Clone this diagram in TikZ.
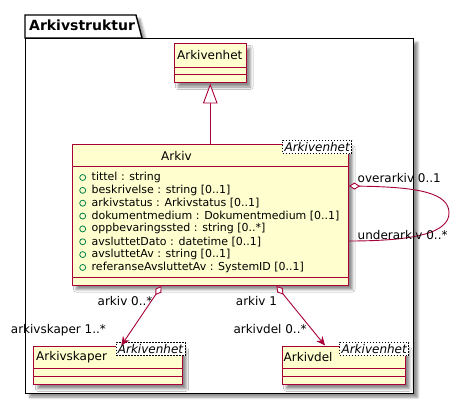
\documentclass[tikz,border=0pt]{standalone}
\usepackage{fontspec}
\setmainfont{DejaVu Sans}
\usetikzlibrary{arrows.meta,shadows.blur,calc}
\definecolor{umlborder}{HTML}{A80036}
\definecolor{umlfill}{HTML}{FEFECE}
\definecolor{attrgreen}{HTML}{038048}
\tikzset{
  shd/.style={blur shadow={shadow xshift=4pt,shadow yshift=-4pt,shadow blur radius=2.5pt,shadow opacity=45}},
  classbox/.style={draw=umlborder,fill=umlfill,line width=1pt,anchor=north west,inner sep=0pt,shd},
  sepline/.style={draw=umlborder,line width=1pt},
  tmpl/.style={draw=black,fill=white,line width=0.6pt,dash pattern=on 1.5pt off 1.5pt,inner sep=0.5pt,
    minimum width=69pt,minimum height=13.5pt,font=\fontsize{12}{14}\selectfont\itshape},
  pkgline/.style={draw=black,line width=1.4pt,fill=white},
  cname/.style={inner sep=0pt,font=\fontsize{12}{14}\selectfont},
  attr/.style={inner sep=0pt,anchor=west,font=\fontsize{11}{13}\selectfont},
  dot/.style={circle,draw=attrgreen,line width=0.8pt,minimum size=6pt,inner sep=0pt},
  lbl/.style={inner sep=0pt,anchor=base west,font=\fontsize{12}{14}\selectfont},
  conn/.style={draw=umlborder,line width=0.9pt}
}
\begin{document}
\begin{tikzpicture}[x=1pt,y=-1pt]
\useasboundingbox (0,0) rectangle (461,404);
% package
\draw[pkgline,shd] (25,38) -- (25,15) -- (136,15) -- (142,38) -- cycle;
\node[pkgline,shd,anchor=north west,inner sep=0pt,minimum width=388pt,minimum height=354.5pt] (pkg) at (25,38) {};
\node[inner sep=0pt,anchor=west,font=\fontsize{14}{16}\selectfont\bfseries] (pkgtitle) at (29,25.5) {Arkivstruktur};

% Arkivenhet
\node[classbox,minimum width=72.5pt,minimum height=39pt] (enhet) at (173.5,43.5) {};
\draw[sepline] (173.5,67.3) -- (246,67.3);
\draw[sepline] (173.5,74.5) -- (246,74.5);
\node[cname] (enhetname) at (209.75,55.5) {Arkivenhet};

% Arkiv
\node[classbox,minimum width=276.5pt,minimum height=141.5pt] (arkiv) at (71.5,143.5) {};
\draw[sepline] (71.5,166.7) -- (348,166.7);
\draw[sepline] (71.5,277.7) -- (348,277.7);
\node[cname] (arkivname) at (176.5,155.5) {Arkiv};
\node[tmpl] (arkivtmpl) at (317.2,146.8) {Arkivenhet};
\foreach \i/\t in {0/{tittel : string},
                   1/{beskrivelse : string [0..1]},
                   2/{arkivstatus : Arkivstatus [0..1]},
                   3/{dokumentmedium : Dokumentmedium [0..1]},
                   4/{oppbevaringssted : string [0..*]},
                   5/{avsluttetDato : datetime [0..1]},
                   6/{avsluttetAv : string [0..1]},
                   7/{referanseAvsluttetAv : SystemID [0..1]}} {
  \node[dot] (dot\i) at (82.7,{177.5+12.85*\i}) {};
  \node[attr] (attr\i) at (91.5,{177.3+12.85*\i}) {\t};
}

% Arkivskaper
\node[classbox,minimum width=148.4pt,minimum height=38.8pt] (skaper) at (33.3,345.5) {};
\draw[sepline] (33.3,368.3) -- (181.7,368.3);
\draw[sepline] (33.3,376.3) -- (181.7,376.3);
\node[cname,anchor=west] (skapername) at (36,357) {Arkivskaper};
\node[tmpl] (skapertmpl) at (150.5,348.8) {Arkivenhet};

% Arkivdel
\node[classbox,minimum width=123.3pt,minimum height=38.8pt] (del) at (281.7,345.5) {};
\draw[sepline] (281.7,368.3) -- (405,368.3);
\draw[sepline] (281.7,376.3) -- (405,376.3);
\node[cname,anchor=west] (delname) at (283.5,357) {Arkivdel};
\node[tmpl] (deltmpl) at (374.2,348.8) {Arkivenhet};

% connectors
\draw[conn,-{Triangle[length=20pt,width=14.6pt,fill=white]}] (enhet.south |- arkiv.north) -- (enhet.south);

\coordinate (loopA) at ($(arkiv.north east)+(0,42.5)$);
\coordinate (loopB) at ($(arkiv.north east)+(100,69.5)$);
\coordinate (loopC) at ($(arkiv.north east)+(0,97.5)$);
\draw[conn,{Diamond[length=11pt,width=7pt,fill=white]}-] (loopA) .. controls ($(loopA)+(70,1)$) and ($(loopB)+(0,-20)$) .. (loopB)
   .. controls ($(loopB)+(0,20)$) and ($(loopC)+(65,0)$) .. (loopC);

\draw[conn,{Diamond[length=11pt,width=7pt,fill=white]}-{Stealth[length=9pt,width=8pt,inset=3pt]}]
  ($(arkiv.south west)+(90,0)$) -- ($(skaper.north west)+(88,0)$);
\draw[conn,{Diamond[length=11pt,width=7pt,fill=white]}-{Stealth[length=9pt,width=8pt,inset=3pt]}]
  ($(arkiv.south west)+(205,0)$) -- ($(del.north west)+(43.3,0)$);

% labels
\node[lbl] (l1) at (357.5,182) {overarkiv 0..1};
\node[lbl] (l2) at (357.5,239.5) {underarkiv 0..*};
\node[lbl] (l3) at (97.5,305) {arkiv 0..*};
\node[lbl] (l4) at (10.7,333.3) {arkivskaper 1..*};
\node[lbl] (l5) at (235.7,305) {arkiv 1};
\node[lbl] (l6) at (233.3,333.3) {arkivdel 0..*};
\end{tikzpicture}
\end{document}
